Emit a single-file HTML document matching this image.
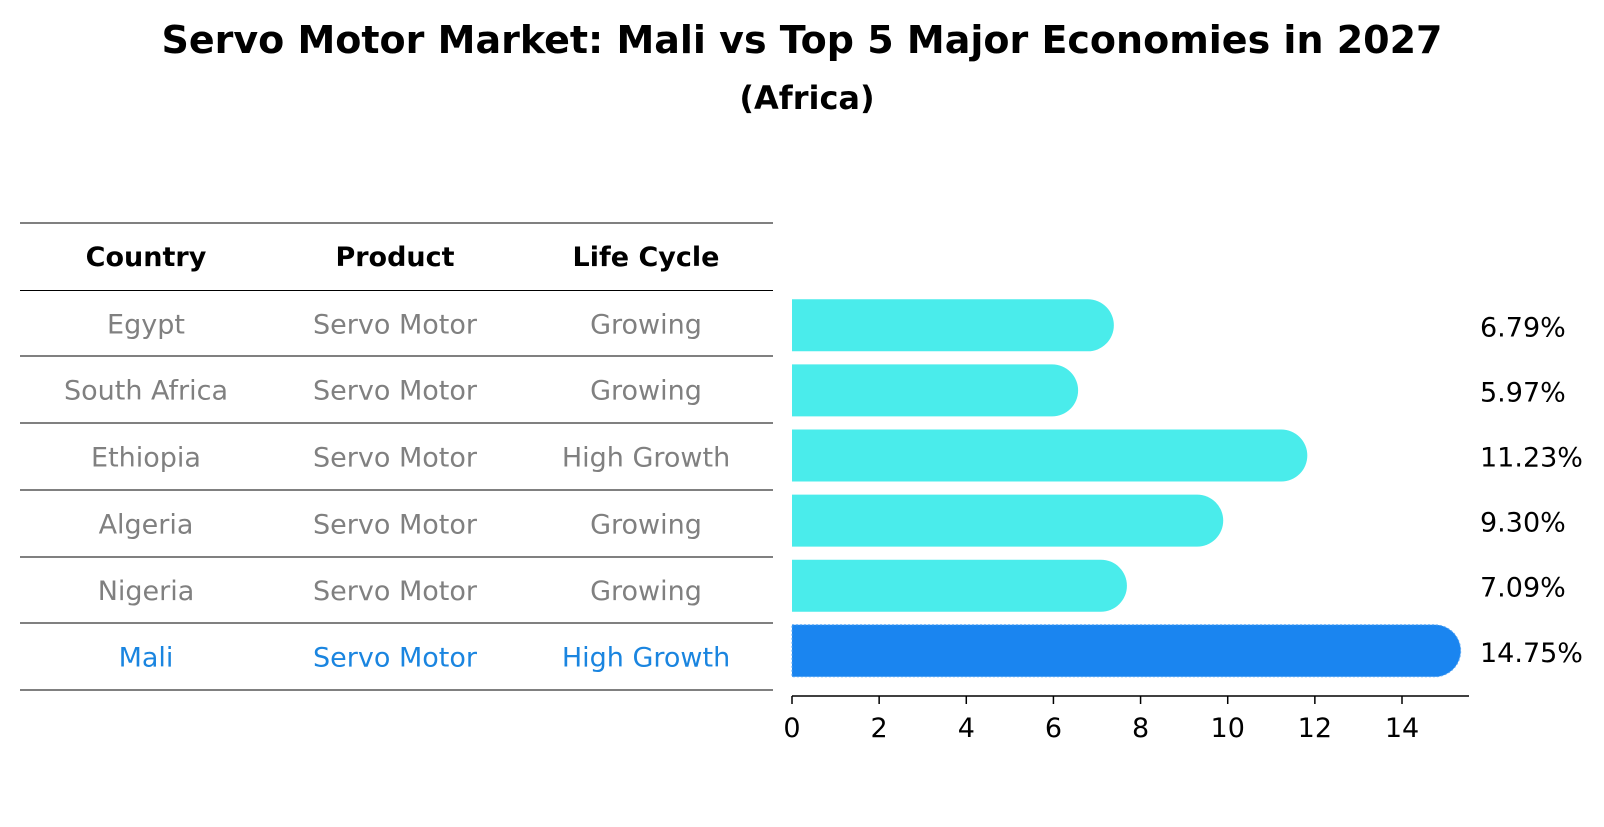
<!DOCTYPE html>
<html><head><meta charset="utf-8"><style>
body{margin:0;background:#fff;font-family:"DejaVu Sans","Liberation Sans",sans-serif;}
</style></head><body>
<svg id="chart" width="1604" height="823" xmlns="http://www.w3.org/2000/svg" font-family="'DejaVu Sans','Liberation Sans',sans-serif">
<text x="802" y="53" text-anchor="middle" font-size="38" font-weight="bold">Servo Motor Market: Mali vs Top 5 Major Economies in 2027</text>
<text x="807" y="109" text-anchor="middle" font-size="32" font-weight="bold">(Africa)</text>
<g id="table"></g>
<g id="bars"></g>
<g id="axis"></g>
</svg>
<script>
const countries=["Egypt","South Africa","Ethiopia","Algeria","Nigeria","Mali"];
const products=["Servo Motor","Servo Motor","Servo Motor","Servo Motor","Servo Motor","Servo Motor"];
const lifeCycles=["Growing","Growing","High Growth","Growing","Growing","High Growth"];
const values=[6.79,5.97,11.23,9.30,7.09,14.75];
const xTicks=[0,2,4,6,8,10,12,14];
const NS="http://www.w3.org/2000/svg";
function mk(tag,attrs,parent,txt){const e=document.createElementNS(NS,tag);for(const k in attrs)e.setAttribute(k,attrs[k]);if(txt!==undefined)e.textContent=txt;parent.appendChild(e);return e;}
const x0=792,pxPer=610/14;
const xs=v=>x0+v*pxPer;
const rowY=i=>325.3+i*65.1;
const tbl=document.getElementById('table'),bars=document.getElementById('bars'),ax=document.getElementById('axis');
const lineYs=[223,290.5,356,423,490,557,623,690];
lineYs.forEach(y=>{const l=mk('line',{x1:20,x2:773,y1:y,y2:y,stroke:'#000','stroke-width':1},tbl);});
const colX=[146,395,646];
["Country","Product","Life Cycle"].forEach((h,j)=>{const t=mk('text',{x:colX[j],y:266,'text-anchor':'middle','font-size':27,'font-weight':'bold'},tbl,h);});
const last=countries.length-1;
countries.forEach((c,i)=>{
  const col=i===last?'#1a85e0':'#808080';
  const ty=(lineYs[i+1]+lineYs[i+2])/2+10;
  [c,products[i],lifeCycles[i]].forEach((v,j)=>{const t=mk('text',{x:colX[j],y:ty,'text-anchor':'middle','font-size':27,fill:col},tbl,v);});
  const cy=rowY(i),h=52,r=26,xe=xs(values[i]);
  const fill=i===last?'#1a85f0':'#4aeceb';
  const p=mk('path',{d:`M${x0},${cy-h/2} H${xe} A${r},${r} 0 0 1 ${xe},${cy+h/2} H${x0} Z`,fill:fill},bars);
  if(i===last){p.setAttribute('stroke','#5aa8f5');p.setAttribute('stroke-dasharray','2,2');p.setAttribute('stroke-width','1');}
  
  
  const t=mk('text',{x:1480,y:cy+11,'font-size':27},bars,values[i].toFixed(2)+'%');
  
  
});
mk('line',{x1:x0,x2:1469,y1:696,y2:696,stroke:'#000','stroke-width':1.5},ax);
xTicks.forEach(v=>{const x=xs(v);mk('line',{x1:x,x2:x,y1:696,y2:704,stroke:'#000','stroke-width':1.5},ax);const t=mk('text',{x:x,y:737,'text-anchor':'middle','font-size':27},ax,v);});
</script>
</body></html>
